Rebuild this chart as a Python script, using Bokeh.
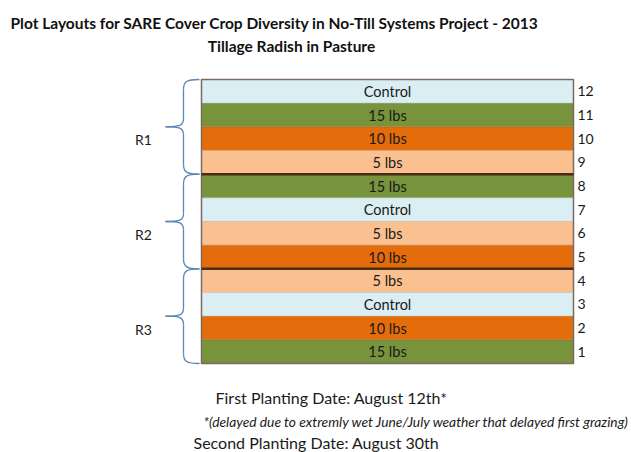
from bokeh.plotting import figure
from bokeh.models import ColumnDataSource, Range1d
from bokeh.embed import file_html
from bokeh.resources import INLINE
from bokeh.core.properties import value

# ---- data ----
plot_numbers = [12, 11, 10, 9, 8, 7, 6, 5, 4, 3, 2, 1]
treatments = ["Control", "15 lbs", "10 lbs", "5 lbs",
              "15 lbs", "Control", "5 lbs", "10 lbs",
              "5 lbs", "Control", "10 lbs", "15 lbs"]
replications = ["R1"] * 4 + ["R2"] * 4 + ["R3"] * 4
rep_names = ["R1", "R2", "R3"]
title = "Plot Layouts for SARE Cover Crop Diversity in No-Till Systems Project - 2013"
subtitle = "Tillage Radish in Pasture"
notes = ["First Planting Date: August 12th*",
         "*(delayed due to extremly wet June/July weather that delayed first grazing)",
         "Second Planting Date: August 30th"]

palette = {"Control": "#dbeef4", "15 lbs": "#77933c",
           "10 lbs": "#e46c0a", "5 lbs": "#fac090"}

FONT = "Lato"
W, H = 631, 452
# x in picture pixels; y in plot-number units
x0, x1 = 0, W
row_px = (363 - 79) / 12.0
y_top = 0.5 + (363 - 0) / row_px
y_bot = 0.5 - (H - 363) / row_px

def ypix(py):
    return 0.5 + (363 - py) / row_px

p = figure(width=W, height=H, output_backend="svg", toolbar_location=None,
           x_range=Range1d(x0, x1), y_range=Range1d(y_bot, y_top),
           min_border=0)
p.axis.visible = False
p.grid.visible = False
p.outline_line_color = None
p.background_fill_color = "white"

bar_left, bar_right = 201, 573
src = ColumnDataSource(dict(
    y=plot_numbers, t=treatments,
    c=[palette[t] for t in treatments],
    lab=[str(n) for n in plot_numbers],
))
p.hbar(y="y", left=bar_left, right=bar_right, height=1.0, fill_color="c",
       line_color=None, source=src)
# thin row lines
p.segment(x0=[bar_left] * 11, x1=[bar_right] * 11,
          y0=[n + 0.5 for n in range(1, 12)], y1=[n + 0.5 for n in range(1, 12)],
          line_color="#000000", line_alpha=0.12, line_width=1)
# outer border
p.quad(left=[bar_left], right=[bar_right], bottom=[min(plot_numbers) - 0.5],
       top=[max(plot_numbers) + 0.5], fill_color=None, line_color="#7a6a62",
       line_width=1.5)
# group separators
groups = []
for r in rep_names:
    nums = [n for n, rr in zip(plot_numbers, replications) if rr == r]
    groups.append((r, max(nums) + 0.5, min(nums) - 0.5))
sep_y = [g[2] for g in groups[:-1]]
p.segment(x0=[bar_left] * len(sep_y), x1=[bar_right] * len(sep_y),
          y0=sep_y, y1=sep_y, line_color="#4a2c1a", line_width=2.5)

cx = (bar_left + bar_right) / 2
p.text(x=cx, y="y", text="t", source=src, text_align="center",
       text_baseline="middle", text_font=value(FONT), text_font_size="14.5px",
       text_color="#1a1a1a")
p.text(x=577, y="y", text="lab", source=src, text_align="left",
       text_baseline="middle", text_font=value(FONT), text_font_size="14px",
       text_color="#1a1a1a")

# braces
bc = "#5b86b8"
d = 1.0 / row_px
for name, t, b in groups:
    m = (t + b) / 2
    xe, xv, xt = 199, 183, 165
    p.bezier(x0=[xe], y0=[t], x1=[xv], y1=[t - 10 * d],
             cx0=[xv + 3], cy0=[t], cx1=[xv], cy1=[t - 2 * d],
             line_color=bc, line_width=1.3)
    p.segment(x0=[xv], y0=[t - 10 * d], x1=[xv], y1=[m + 8 * d],
              line_color=bc, line_width=1.3)
    p.bezier(x0=[xv], y0=[m + 8 * d], x1=[xt], y1=[m],
             cx0=[xv], cy0=[m + 1 * d], cx1=[xv - 4], cy1=[m],
             line_color=bc, line_width=1.3)
    p.bezier(x0=[xt], y0=[m], x1=[xv], y1=[m - 8 * d],
             cx0=[xv - 4], cy0=[m], cx1=[xv], cy1=[m - 1 * d],
             line_color=bc, line_width=1.3)
    p.segment(x0=[xv], y0=[m - 8 * d], x1=[xv], y1=[b + 10 * d],
              line_color=bc, line_width=1.3)
    p.bezier(x0=[xv], y0=[b + 10 * d], x1=[xe], y1=[b],
             cx0=[xv], cy0=[b + 2 * d], cx1=[xv + 3], cy1=[b],
             line_color=bc, line_width=1.3)
    p.text(x=[143], y=[m - 13 * d], text=[name], text_align="center",
           text_baseline="middle", text_font=value(FONT),
           text_font_size="14px", text_color="#1a1a1a")

# titles
p.text(x=[10], y=[ypix(22)], text=[title], text_align="left",
       text_baseline="middle", text_font=value(FONT), text_font_size="15.5px",
       text_font_style="bold", text_color="#111111")
p.text(x=[291], y=[ypix(45)], text=[subtitle], text_align="center",
       text_baseline="middle", text_font=value(FONT), text_font_size="15.5px",
       text_font_style="bold", text_color="#111111")

# notes
p.text(x=[215], y=[ypix(397)], text=[notes[0]], text_align="left",
       text_baseline="middle", text_font=value(FONT), text_font_size="16px",
       text_color="#1a1a1a")
p.text(x=[203], y=[ypix(421)], text=[notes[1]], text_align="left",
       text_baseline="middle", text_font=value(FONT), text_font_size="13.8px",
       text_font_style="italic", text_color="#1a1a1a")
p.text(x=[193], y=[ypix(442)], text=[notes[2]], text_align="left",
       text_baseline="middle", text_font=value(FONT), text_font_size="16px",
       text_color="#1a1a1a")

open("out.html", "w").write(file_html(p, INLINE))
